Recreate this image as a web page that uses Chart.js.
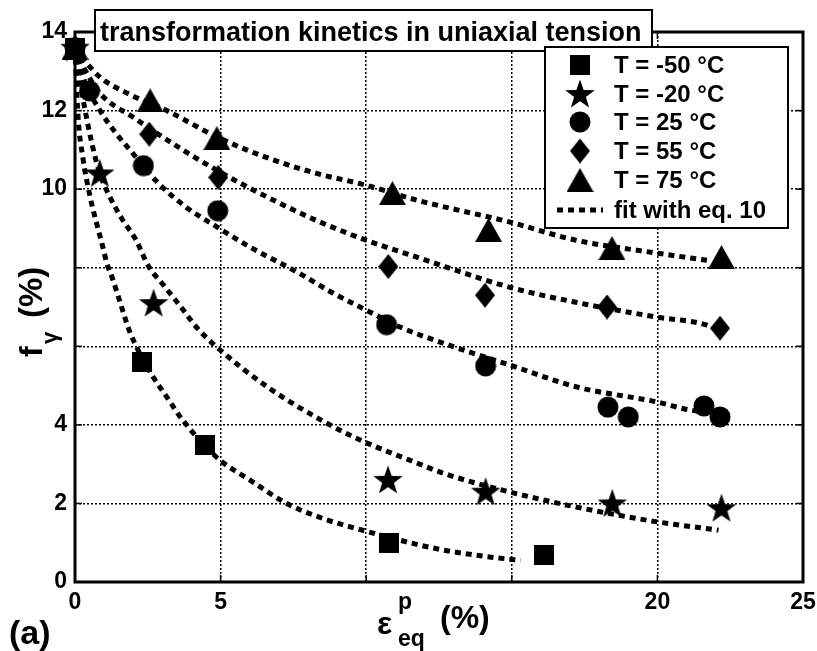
<!DOCTYPE html>
<html><head><meta charset="utf-8">
<script src="https://cdn.jsdelivr.net/npm/chart.js@4/dist/chart.umd.min.js"></script>
<style>html,body{margin:0;padding:0;background:#fff;}canvas{display:block;}</style>
</head><body>
<canvas id="c" width="817" height="651"></canvas>
<script>
// ---- data ----
const seriesLabels = ['T = -50 °C', 'T = -20 °C', 'T = 25 °C', 'T = 55 °C', 'T = 75 °C'];
const fitLabel = 'fit with eq. 10';
const titleText = 'transformation kinetics in uniaxial tension';
const xTickLabels = ['0', '5', '', '', '20', '25'];
const yTickLabels = ['0', '2', '4', '', '', '10', '12', '14'];

// measured points
const pM50x = [0, 2.3, 4.45, 10.8, 16.1];
const pM50y = [13.6, 5.6, 3.5, 1.0, 0.7];
const pM20x = [0, 0.85, 2.7, 10.75, 14.1, 18.45, 22.2];
const pM20y = [13.6, 10.4, 7.1, 2.6, 2.3, 2.0, 1.88];
const p25x = [0, 0.5, 2.35, 4.9, 10.7, 14.1, 18.3, 19.0, 21.6, 22.15];
const p25y = [13.6, 12.5, 10.6, 9.45, 6.55, 5.5, 4.45, 4.2, 4.48, 4.2];
const p55x = [0, 2.55, 4.92, 10.76, 14.08, 18.27, 22.15];
const p55y = [13.6, 11.4, 10.3, 8.03, 7.3, 7.0, 6.46];
const p75x = [0, 2.58, 4.87, 10.9, 14.2, 18.44, 22.2];
const p75y = [13.6, 12.26, 11.3, 9.9, 8.96, 8.5, 8.27];

// fitted curves
const fM50x = [0, 0.1, 0.27, 0.52, 0.76, 0.93, 1.1, 1.27, 1.55, 1.82, 2.0, 2.64, 3.16, 3.67, 4.9, 6.0, 7.27, 8.5, 9.96, 11.5, 12.6, 14.0, 15.3];
const fM50y = [13.6, 11.9, 10.8, 9.8, 9.08, 8.6, 8.1, 7.76, 7.12, 6.49, 6.16, 5.27, 4.7, 4.15, 3.15, 2.6, 2.0, 1.62, 1.3, 1.0, 0.82, 0.66, 0.55];
const fM20x = [0, 0.3, 0.6, 0.85, 1.2, 1.6, 2.1, 2.5, 3.1, 3.67, 4.2, 4.87, 6.6, 8.65, 9.96, 11.74, 12.64, 14.94, 17.2, 20.0, 22.1];
const fM20y = [13.6, 12.2, 11.1, 10.4, 9.8, 9.26, 8.7, 8.07, 7.5, 6.97, 6.46, 5.98, 4.97, 4.04, 3.56, 3.03, 2.77, 2.29, 1.91, 1.53, 1.32];
const f25x = [0, 0.3, 0.86, 1.43, 2.0, 2.8, 3.8, 4.87, 6.0, 7.7, 8.87, 10.0, 11.16, 12.64, 14.94, 17.2, 20.0, 21.1, 22.1];
const f25y = [13.6, 12.8, 12.0, 11.4, 10.9, 10.2, 9.55, 9.04, 8.53, 7.86, 7.35, 6.92, 6.49, 6.08, 5.52, 4.97, 4.58, 4.38, 4.3];
const f55x = [0, 0.3, 0.86, 2.0, 3.7, 4.87, 6.6, 8.3, 10.0, 11.74, 14.94, 17.2, 20.0, 21.7, 22.1];
const f55y = [13.6, 13.1, 12.44, 11.83, 11.0, 10.48, 9.8, 9.2, 8.7, 8.27, 7.5, 7.12, 6.74, 6.54, 6.4];
const f75x = [0, 0.3, 0.86, 1.8, 3.15, 4.87, 6.6, 8.3, 10.0, 11.74, 14.94, 17.2, 20.0, 21.7];
const f75y = [13.6, 13.3, 12.85, 12.44, 12.0, 11.33, 10.8, 10.4, 10.1, 9.72, 9.16, 8.7, 8.37, 8.19];

// ---- marker images ----
function mk(w, h, draw) {
  const c = document.createElement('canvas'); c.width = w; c.height = h;
  const g = c.getContext('2d'); g.fillStyle = '#000'; draw(g, w, h); return c;
}
const mSquare = mk(20, 20, (g, w, h) => g.fillRect(0, 0, w, h));
const mStar = mk(32, 32, (g) => {
  g.beginPath();
  for (let i = 0; i < 10; i++) {
    const r = i % 2 ? 6.2 : 15.5, a = -Math.PI / 2 + i * Math.PI / 5;
    const px = 16 + r * Math.cos(a), py = 17 + r * Math.sin(a);
    i ? g.lineTo(px, py) : g.moveTo(px, py);
  }
  g.closePath(); g.fill();
});
const mCircle = mk(22, 22, (g) => { g.beginPath(); g.arc(11, 11, 10.5, 0, Math.PI * 2); g.fill(); });
const mDiamond = mk(20, 25, (g, w, h) => {
  g.beginPath(); g.moveTo(w / 2, 0); g.lineTo(w, h / 2); g.lineTo(w / 2, h); g.lineTo(0, h / 2); g.closePath(); g.fill();
});
const mTriangle = mk(27, 24, (g, w, h) => {
  g.beginPath(); g.moveTo(w / 2, 0); g.lineTo(w, h); g.lineTo(0, h); g.closePath(); g.fill();
});
const markers = [mSquare, mStar, mCircle, mDiamond, mTriangle];

const zip = (xs, ys) => xs.map((v, i) => ({x: v, y: ys[i]}));
const pts = [[pM50x, pM50y], [pM20x, pM20y], [p25x, p25y], [p55x, p55y], [p75x, p75y]];
const fits = [[fM50x, fM50y], [fM20x, fM20y], [f25x, f25y], [f55x, f55y], [f75x, f75y]];

const datasets = [];
pts.forEach((p, i) => datasets.push({
  label: seriesLabels[i], data: zip(p[0], p[1]), showLine: false,
  pointStyle: markers[i], pointRadius: 10, backgroundColor: '#000', borderColor: '#000', clip: false
}));
fits.forEach((f, i) => datasets.push({
  label: i === 0 ? fitLabel : fitLabel + ' ' + i, data: zip(f[0], f[1]), showLine: true,
  pointRadius: 0, borderColor: '#000', borderWidth: 5, borderDash: [6, 5], borderCapStyle: 'butt',
  cubicInterpolationMode: 'monotone', fill: false, clip: false
}));

const FONT = '"Liberation Sans", Arial, sans-serif';

const overlay = {
  id: 'overlay',
  beforeDatasetsDraw(chart) {
    const {ctx, chartArea: a, scales: {x, y}} = chart;
    ctx.save();
    ctx.strokeStyle = '#000';
    ctx.lineWidth = 1.5;
    const tl = 7;
    const ln = (x1, y1, x2, y2) => { ctx.beginPath(); ctx.moveTo(x1, y1); ctx.lineTo(x2, y2); ctx.stroke(); };
    x.ticks.forEach(t => {
      if (t.value <= x.min || t.value >= x.max) return;
      const px = x.getPixelForValue(t.value);
      ln(px, a.bottom, px, a.bottom - tl); ln(px, a.top, px, a.top + tl);
    });
    y.ticks.forEach(t => {
      if (t.value <= y.min || t.value >= y.max) return;
      const py = y.getPixelForValue(t.value);
      ln(a.left, py, a.left + tl, py); ln(a.right, py, a.right - tl, py);
    });
    ctx.lineWidth = 3;
    ctx.strokeRect(a.left, a.top, a.right - a.left, a.bottom - a.top);
    ctx.restore();
  },
  afterDraw(chart) {
    const {ctx} = chart;
    ctx.save();
    ctx.fillStyle = '#000';
    // title box
    ctx.fillStyle = '#fff'; ctx.fillRect(95, 10, 557, 41);
    ctx.strokeStyle = '#000'; ctx.lineWidth = 2; ctx.strokeRect(95, 10, 557, 41);
    ctx.fillStyle = '#000'; ctx.font = 'bold 27px ' + FONT; ctx.textBaseline = 'alphabetic'; ctx.textAlign = 'left';
    ctx.fillText(titleText, 100, 41);
    // legend box
    const lx = 545, ly = 47, lw = 243, lh = 181;
    ctx.fillStyle = '#fff'; ctx.fillRect(lx, ly, lw, lh);
    ctx.lineWidth = 2; ctx.strokeRect(lx, ly, lw, lh);
    ctx.fillStyle = '#000'; ctx.font = 'bold 24px ' + FONT; ctx.textBaseline = 'middle';
    const rows = [65, 94, 122, 151, 180, 210];
    seriesLabels.forEach((s, i) => {
      const m = markers[i];
      ctx.drawImage(m, 580 - m.width / 2, rows[i] - m.height / 2);
      ctx.fillText(s, 614, rows[i] + 1);
    });
    ctx.save(); ctx.lineWidth = 5; ctx.setLineDash([6, 5]); ctx.beginPath();
    ctx.moveTo(557, rows[5]); ctx.lineTo(603, rows[5]); ctx.stroke(); ctx.restore();
    ctx.fillText(fitLabel, 614, rows[5] + 1);
    // x axis title
    ctx.textBaseline = 'alphabetic';
    ctx.font = 'bold 32px ' + FONT; ctx.fillText('ε', 377, 634);
    ctx.font = 'bold 23px ' + FONT; ctx.fillText('p', 398, 609); ctx.fillText('eq', 398, 646);
    ctx.font = 'bold 32px ' + FONT; ctx.fillText('(%)', 440, 628);
    // y axis title
    ctx.save(); ctx.translate(42, 357); ctx.rotate(-Math.PI / 2);
    ctx.font = 'bold 32px ' + FONT; ctx.fillText('f', 0, 0);
    ctx.font = 'bold 22px ' + FONT; ctx.fillText('γ', 13, 15);
    ctx.font = 'bold 33px ' + FONT; ctx.fillText('(%)', 39, 0);
    ctx.restore();
    // panel label
    ctx.font = 'bold 34px ' + FONT; ctx.fillText('(a)', 9, 644);
    ctx.restore();
  }
};

const gridColor = (max) => (c) => (c.tick && (c.tick.value === 0 || c.tick.value === max)) ? 'rgba(0,0,0,0)' : '#000';

new Chart(document.getElementById('c'), {
  type: 'scatter',
  data: {datasets},
  plugins: [overlay],
  options: {
    responsive: false, animation: false, events: [],
    layout: {padding: {top: 32, right: 14, left: 0, bottom: 0}},
    plugins: {legend: {display: false}, tooltip: {enabled: false}, title: {display: false}},
    scales: {
      x: {
        type: 'linear', min: 0, max: 25,
        afterFit: s => { s.height = 69; s.paddingLeft = 0; s.paddingRight = 0; },
        ticks: {stepSize: 5, padding: 7, color: '#000', font: {family: FONT, size: 23, weight: 'bold'},
          maxRotation: 0, autoSkip: false, callback: (v, i) => xTickLabels[i]},
        grid: {color: gridColor(25), lineWidth: 1.5, drawTicks: false},
        border: {display: false, dash: [2, 2]}
      },
      y: {
        type: 'linear', min: 0, max: 14,
        afterFit: s => { s.width = 75; s.paddingTop = 0; s.paddingBottom = 0; },
        ticks: {stepSize: 2, padding: 8, color: '#000', font: {family: FONT, size: 23, weight: 'bold'},
          autoSkip: false, callback: (v, i) => yTickLabels[i]},
        grid: {color: gridColor(14), lineWidth: 1.5, drawTicks: false},
        border: {display: false, dash: [2, 2]}
      }
    }
  }
});
</script>
</body></html>
